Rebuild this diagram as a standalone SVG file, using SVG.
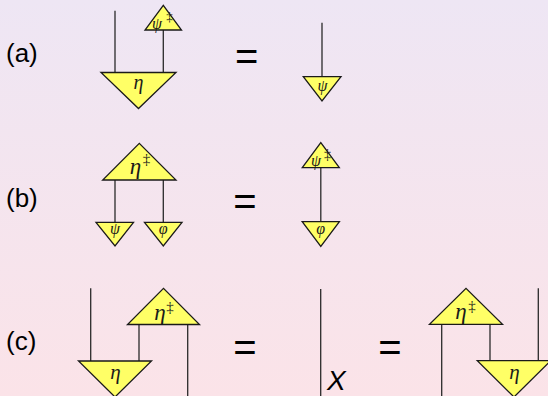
<svg xmlns="http://www.w3.org/2000/svg" width="548" height="396" viewBox="0 0 548 396">
<defs>
<linearGradient id="bg" x1="0" y1="0" x2="0" y2="1">
<stop offset="0" stop-color="#EEE6F4"/>
<stop offset="1" stop-color="#FBE3E8"/>
</linearGradient>
<style>
.tri{fill:#FFFF66;stroke:#1a1a1a;stroke-width:1.3;stroke-linejoin:miter}
.wire{stroke:#2a2a2a;stroke-width:1.3;fill:none}
.lab{font-family:"Liberation Sans",Arial,sans-serif;font-size:26px;fill:#000}
.eq{font-family:"Liberation Sans",Arial,sans-serif;font-size:40px;fill:#000;text-anchor:middle}
.g{font-family:"Liberation Serif","Times New Roman",serif;font-style:italic;fill:#1a1a1a;text-anchor:middle}
.d{font-family:"Liberation Serif","Times New Roman",serif;fill:#1a1a1a;text-anchor:middle}
</style>
</defs>
<rect width="548" height="396" fill="url(#bg)"/>

<g id="labels">
<text class="lab" x="6" y="61.5">(a)</text>
<text class="lab" x="6" y="207">(b)</text>
<text class="lab" x="6" y="350">(c)</text>
<text class="eq" x="246.7" y="70">=</text>
<text class="eq" x="245" y="215">=</text>
<text class="eq" x="245" y="361">=</text>
<text class="eq" x="390" y="360.5">=</text>
</g>

<g id="connectors">
<line class="wire" x1="115" y1="10.7" x2="115" y2="72.5"/>
<line class="wire" x1="163.3" y1="30" x2="163.3" y2="72.5"/>
<line class="wire" x1="322" y1="22.7" x2="322" y2="76.7"/>
<line class="wire" x1="115" y1="180" x2="115" y2="222.3"/>
<line class="wire" x1="163.3" y1="180" x2="163.3" y2="222.3"/>
<line class="wire" x1="320.8" y1="167.7" x2="320.8" y2="221.7"/>
<line class="wire" x1="90.7" y1="288.3" x2="90.7" y2="361"/>
<line class="wire" x1="139" y1="324.5" x2="139" y2="361"/>
<line class="wire" x1="187.7" y1="324.5" x2="187.7" y2="397"/>
<line class="wire" x1="320.7" y1="289" x2="320.7" y2="397"/>
<line class="wire" x1="441.7" y1="324.3" x2="441.7" y2="397"/>
<line class="wire" x1="490" y1="324.3" x2="490" y2="360.7"/>
<line class="wire" x1="538.3" y1="288.3" x2="538.3" y2="360.7"/>
</g>

<g id="a-eta">
<polygon class="tri" points="101,72.5 176,72.5 138.5,108.5"/>
<text class="g" x="138.5" y="88.5" font-size="20">η</text>
</g>
<g id="a-psidag">
<polygon class="tri" points="145,30 181.5,30 163.3,5.3"/>
<text class="g" x="157" y="28.5" font-size="16">ψ</text>
<text class="d" x="169.5" y="21" font-size="13">‡</text>
</g>
<g id="a-psi">
<polygon class="tri" points="303.3,76.7 341,76.7 322,101"/>
<text class="g" x="322.5" y="91" font-size="16">ψ</text>
</g>

<g id="b-etadag">
<polygon class="tri" points="102.7,180 176,180 139.3,143.3"/>
<text class="g" x="135.5" y="173.5" font-size="23">η</text>
<text class="d" x="146.5" y="164" font-size="15">‡</text>
</g>
<g id="b-psi">
<polygon class="tri" points="96,222.3 133.5,222.3 115,246"/>
<text class="g" x="115" y="234" font-size="16">ψ</text>
</g>
<g id="b-phi">
<polygon class="tri" points="144.5,222.3 182,222.3 163.3,246"/>
<text class="g" x="163.3" y="234" font-size="16">φ</text>
</g>
<g id="b-psidag">
<polygon class="tri" points="302.3,167.7 339.3,167.7 320.8,142.7"/>
<text class="g" x="316" y="166" font-size="16">ψ</text>
<text class="d" x="327.5" y="159" font-size="14">‡</text>
</g>
<g id="b-phi2">
<polygon class="tri" points="302.2,221.7 339.4,221.7 320.8,246.5"/>
<text class="g" x="320.8" y="234" font-size="16">φ</text>
</g>

<g id="c-eta-left">
<polygon class="tri" points="78.5,361 151.5,361 115,397"/>
<text class="g" x="115.5" y="378.5" font-size="21">η</text>
</g>
<g id="c-etadag-left">
<polygon class="tri" points="127.5,324.5 199.5,324.5 163.5,288.3"/>
<text class="g" x="160" y="320" font-size="23">η</text>
<text class="d" x="170" y="312" font-size="15">‡</text>
</g>
<g id="c-X">
<text x="327" y="389.5" font-family="Liberation Sans, Arial, sans-serif" font-size="28" font-style="italic" fill="#000">X</text>
</g>
<g id="c-etadag-right">
<polygon class="tri" points="429.5,324.3 502.5,324.3 466,288.3"/>
<text class="g" x="461" y="318.5" font-size="23">η</text>
<text class="d" x="472" y="310.5" font-size="15">‡</text>
</g>
<g id="c-eta-right">
<polygon class="tri" points="477.3,360.7 550.7,360.7 514,397"/>
<text class="g" x="514.5" y="379" font-size="21">η</text>
</g>
</svg>
